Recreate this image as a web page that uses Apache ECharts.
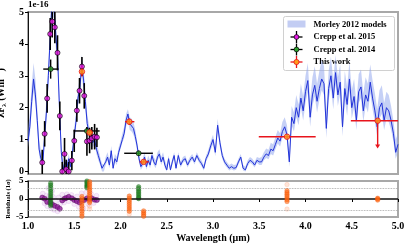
<!DOCTYPE html>
<html><head><meta charset="utf-8">
<script src="https://cdn.jsdelivr.net/npm/echarts@6/dist/echarts.min.js"></script>
<style>html,body{margin:0;padding:0;background:#fff}#c{width:407px;height:244px}</style>
</head><body><div id="c"></div>
<script>
// ---------- Model spectrum (Morley 2012) ----------
const wl = [
1.00,1.02,1.04,1.06,1.08,1.10,1.12,1.14,1.16,1.18,
1.20,1.22,1.24,1.26,1.28,1.30,1.32,1.34,1.36,1.38,
1.40,1.42,1.44,1.46,1.48,1.50,1.52,1.54,1.56,1.58,
1.60,1.62,1.64,1.66,1.68,1.70,1.72,1.74,1.76,1.78,
1.80,1.82,1.84,1.86,1.88,1.90,1.92,1.94,1.96,1.98,
2.00,2.02,2.04,2.06,2.08,2.10,2.12,2.14,2.16,2.18,
2.20,2.22,2.24,2.26,2.28,2.30,2.32,2.34,2.36,2.38,
2.40,2.42,2.44,2.46,2.48,2.50,2.52,2.54,2.56,2.58,
2.60,
2.625,2.65,2.675,2.70,2.725,2.75,2.775,2.80,2.825,2.85,2.875,2.90,2.925,2.95,2.975,3.00,
3.025,3.05,3.075,3.10,3.125,3.15,3.175,3.20,3.225,3.25,3.275,3.30,3.325,3.35,3.375,3.40,
3.425,3.45,3.475,3.50,3.525,3.55,3.575,3.60,3.625,3.65,3.675,3.70,3.725,3.75,3.775,3.80,
3.825,3.85,3.875,3.90,3.925,3.95,3.975,4.00,4.025,4.05,4.075,4.10,4.125,4.15,4.175,4.20,
4.225,4.25,4.275,4.30,4.325,4.35,4.375,4.40,4.425,4.45,4.475,4.50,4.525,4.55,4.575,4.60,
4.625,4.65,4.675,4.70,4.725,4.75,4.775,4.80,4.825,4.85,4.875,4.90,4.925,4.95,4.975,5.00];
const modelMid = [
0.95,1.4,2.2,2.9,2.4,1.6,0.7,0.4,0.25,1.1,
1.9,3.0,4.2,5.3,5.2,4.3,3.6,2.0,0.6,0.05,
0.3,0.1,0.4,0.15,0.6,1.1,1.6,2.3,2.6,3.3,
2.9,2.2,1.5,1.2,1.0,0.9,1.0,0.7,0.5,0.3,
0.1,0.05,0.3,0.45,0.2,0.65,0.1,0.4,0.3,0.6,
0.8,1.0,1.2,1.6,1.8,1.5,1.45,1.35,1.1,0.8,
0.4,0.15,0.25,0.45,0.15,0.35,0.2,0.5,0.3,0.2,
0.45,0.55,0.3,0.45,0.2,0.05,0.4,0.05,0.3,0.5,
0.1,
0.5,0.2,0.35,0.4,0.2,0.35,0.45,0.3,0.5,0.35,0.25,0.1,0.4,0.55,0.8,1.0,
0.6,1.45,0.9,0.5,0.3,0.2,0.1,0.15,0.1,0.12,0.3,0.45,0.1,0.05,0.25,0.35,
0.3,0.2,0.35,0.3,0.3,0.45,0.55,0.5,0.7,0.65,0.85,1.05,0.95,1.25,1.4,1.15,
0.3,1.7,1.5,2.0,1.7,2.3,1.9,2.5,2.85,1.7,2.4,2.7,2.2,2.6,2.9,2.75,
1.35,2.6,3.0,2.3,3.1,2.4,2.8,1.4,2.6,2.1,2.9,2.0,2.35,1.6,2.5,2.65,
1.9,2.4,2.2,2.8,2.3,1.9,1.4,2.0,2.15,1.6,2.0,1.9,1.6,1.2,0.6,0.85];
const modelHi = [
1.3,1.85,2.7,3.4,2.9,2.0,1.0,0.65,0.5,1.4,
2.3,3.4,4.7,5.8,5.7,4.7,4.0,2.4,0.9,0.2,
0.45,0.25,0.55,0.3,0.8,1.35,1.9,2.6,2.95,3.65,
3.25,2.5,1.8,1.45,1.25,1.1,1.2,0.9,0.7,0.45,
0.25,0.2,0.45,0.6,0.35,0.8,0.25,0.55,0.45,0.75,
0.95,1.2,1.4,1.8,1.95,1.7,1.65,1.55,1.3,0.95,
0.55,0.3,0.4,0.6,0.3,0.5,0.35,0.65,0.45,0.35,
0.6,0.7,0.45,0.6,0.35,0.2,0.5,0.15,0.4,0.6,
0.2,
0.6,0.3,0.45,0.5,0.3,0.45,0.55,0.4,0.6,0.45,0.35,0.2,0.5,0.68,0.95,1.15,
0.75,1.65,1.05,0.62,0.4,0.3,0.2,0.25,0.2,0.22,0.4,0.55,0.2,0.15,0.35,0.45,
0.4,0.3,0.45,0.42,0.45,0.6,0.72,0.68,0.9,0.85,1.08,1.3,1.2,1.55,1.7,1.45,
0.6,2.05,1.85,2.4,2.1,2.75,2.35,3.0,3.4,2.2,2.95,3.3,2.75,3.15,3.5,3.3,
1.9,3.15,3.6,2.85,3.65,2.95,3.35,1.95,3.15,2.65,3.45,2.55,2.9,2.15,3.05,3.2,
2.45,2.95,2.75,3.35,2.85,2.45,1.95,2.55,2.7,2.15,2.5,2.4,2.05,1.6,1.0,1.2];
const modelLo = [
0.75,1.15,1.9,2.5,2.1,1.35,0.5,0.25,0.1,0.9,
1.6,2.7,3.9,4.9,4.8,3.9,3.3,1.7,0.4,0.0,
0.15,0.0,0.25,0.05,0.45,0.9,1.4,2.05,2.35,3.0,
2.6,1.95,1.3,1.0,0.85,0.75,0.85,0.55,0.35,0.2,
0.0,0.0,0.2,0.35,0.1,0.55,0.05,0.3,0.2,0.5,
0.7,0.9,1.05,1.4,1.6,1.3,1.25,1.15,0.95,0.65,
0.3,0.05,0.15,0.35,0.05,0.25,0.1,0.4,0.2,0.1,
0.35,0.45,0.2,0.35,0.1,0.0,0.3,0.0,0.2,0.4,
0.05,
0.4,0.12,0.27,0.32,0.12,0.27,0.37,0.22,0.42,0.27,0.17,0.03,0.32,0.45,0.68,0.85,
0.48,1.25,0.75,0.4,0.22,0.12,0.03,0.07,0.03,0.05,0.22,0.37,0.03,0.0,0.17,0.27,
0.22,0.12,0.27,0.2,0.2,0.35,0.42,0.38,0.55,0.5,0.7,0.88,0.78,1.05,1.2,0.95,
0.15,1.45,1.25,1.7,1.45,2.0,1.6,2.15,2.5,1.4,2.05,2.35,1.85,2.25,2.55,2.4,
1.05,2.25,2.65,1.95,2.75,2.05,2.45,1.1,2.25,1.75,2.55,1.65,2.0,1.3,2.15,2.3,
1.55,2.05,1.85,2.45,1.95,1.55,1.1,1.65,1.8,1.3,1.65,1.55,1.3,0.95,0.4,0.6];

// ---------- Crepp et al. 2015 ----------
const c15Wl  = [1.154,1.18,1.207,1.24,1.262,1.29,1.319,1.344,1.37,1.395,1.413,1.44,1.474,1.50,1.528,1.557,1.583,1.608,1.637,1.666,1.69,1.72,1.745];
const c15F   = [0.28,1.18,2.29,4.31,4.70,4.52,3.72,1.74,0.0,0.55,0.07,0.0,0.34,0.96,1.91,2.53,3.29,2.37,0.94,0.97,1.04,1.09,1.07];
const c15Err = [0.4,0.4,0.45,0.5,0.5,0.5,0.55,0.45,0.3,0.5,0.3,0.3,0.3,0.35,0.35,0.4,0.3,0.4,0.45,0.4,0.35,0.4,0.3];
const c15Res = [0.4,0.1,-0.8,-1.0,-1.5,-1.9,-2.2,-2.7,-0.4,0.1,0.3,0.6,0.2,-0.3,-0.6,-1.0,-0.5,-0.3,0.2,0.0,0.2,-0.2,-0.3];
const c15FaintWl  = [1.16,1.18,1.20,1.21,1.23,1.25,1.27,1.28,1.30,1.32,1.33,1.35,1.37,1.39,1.42,1.44,1.47,1.50,1.53,1.55,1.58,1.60,1.63,1.65,1.68,1.71,1.74,1.22,1.26];
const c15FaintRes = [1.5,-1.2,1.0,-2.0,0.8,-2.5,0.6,-3.0,-0.5,-3.4,0.4,-1.2,1.2,-1.0,1.3,-0.6,1.1,-1.4,0.7,-2.2,1.6,-2.6,1.8,-1.4,1.5,-1.1,0.9,3.0,2.2];

// ---------- Crepp et al. 2014 ----------
const c14Wl  = [1.245,1.637,2.196];
const c14F   = [3.21,1.27,0.57];
const c14XLo = [1.165,1.494,2.04];
const c14XHi = [1.33,1.774,2.35];
const c14Err = [0.3,0.1,0.08];
const c14ResVals = [[4.4,3.8,3.2,2.6,2.0,1.4,0.8,0.3,-0.2,-0.8,-1.4,-1.9],[5.0,4.6,4.2,3.8,3.4,3.1],[3.4,2.9,2.4,1.9,1.4,0.9,0.4,0.1]];

// ---------- This work ----------
const twWl  = [1.583,1.666,2.095,2.25,3.80];
const twF   = [3.13,1.22,1.56,0.30,1.09];
const twXLo = [1.568,1.63,2.05,2.207,3.495];
const twXHi = [1.598,1.70,2.15,2.305,4.11];
const twErr = [0.15,0.1,0.1,0.05,0.03];
const limWl = 4.78, limF = 1.59, limXLo = 4.49, limXHi = 5.07, limTo = 0.75;
const twResWl = [1.583,1.666,2.095,2.25,3.80,4.78];
const twResVals = [[0.7,0.1,-0.6,-1.3,-2.0,-2.7,-3.4,-4.1,-4.8],[4.8,4.2,3.6,3.0,2.4,1.8,1.2,0.6,0.0,-0.6,-1.0],[0.8,0.2,-0.4,-1.0,-1.6,-2.2,-2.8,-3.4],[-3.3,-3.8,-4.3,-4.8],[2.3,1.8,1.3,0.8,0.3,-0.2,-0.7],[0.2,0.0,-0.3]];
const twFaintWl  = [1.666,1.666,3.80,3.80,2.095];
const twFaintRes = [-2.0,-2.8,4.0,-2.8,-4.2];

// ---------- axis ticks ----------
const xTicks = [1.0,1.5,2.0,2.5,3.0,3.5,4.0,4.5,5.0];
const fTicks = [0,1,2,3,4,5];
const resTicks = [-5,0,5];

const FONT = '"Liberation Serif","DejaVu Serif","Times New Roman",serif';
const pairs = (xs, ys) => xs.map((x,i)=>[x, ys[i]]);
const columns = (xs, vals) => { const out=[]; xs.forEach((x,i)=>vals[i].forEach(v=>out.push([x,v]))); return out; };

function errItem(color, lw){
  return function(params, api){
    const x=api.value(0), y=api.value(1);
    const c=api.coord([x,y]);
    const xl=api.coord([api.value(2),y])[0], xh=api.coord([api.value(3),y])[0];
    const yl=api.coord([x,api.value(4)])[1], yh=api.coord([x,api.value(5)])[1];
    const ch=[];
    if (xh-xl>0.5) ch.push({type:'line',shape:{x1:xl,y1:c[1],x2:xh,y2:c[1]},style:{stroke:color,lineWidth:lw}});
    if (Math.abs(yl-yh)>0.5) ch.push({type:'line',shape:{x1:c[0],y1:yl,x2:c[0],y2:yh},style:{stroke:color,lineWidth:lw}});
    return {type:'group',children:ch};
  };
}
function bandItem(params, api){
  if (params.dataIndex !== 0) return null;
  const top = wl.map((x,i)=>api.coord([x, modelHi[i]]));
  const bot = wl.map((x,i)=>api.coord([x, modelLo[i]])).reverse();
  return {type:'polygon',shape:{points:top.concat(bot)},style:{fill:'rgba(140,162,238,0.5)'}};
}

const c15ErrData = c15Wl.map((x,i)=>[x,c15F[i],x,x,c15F[i]-c15Err[i],c15F[i]+c15Err[i]]);
const c14ErrData = c14Wl.map((x,i)=>[x,c14F[i],c14XLo[i],c14XHi[i],c14F[i]-c14Err[i],c14F[i]+c14Err[i]]);
const twErrData  = twWl.map((x,i)=>[x,twF[i],twXLo[i],twXHi[i],twF[i]-twErr[i],twF[i]+twErr[i]]);

const chart = echarts.init(document.getElementById('c'), null, {renderer:'canvas'});
const lblStyle = {fontFamily:FONT,fontWeight:'bold',color:'#000'};

const baseGraphic = [
    {type:'text',id:'exp',left:28,top:0,style:{text:'1e-16',font:'bold 9px '+FONT,fill:'#000'}},
    {type:'group',id:'legend',left:283,top:16,children:[
      {type:'rect',shape:{x:0,y:0,width:111,height:54,r:2},style:{fill:'rgba(255,255,255,0.9)',stroke:'#d0d0d0',lineWidth:1}},
      {type:'rect',shape:{x:4,y:4,width:18,height:7},style:{fill:'#c3cdf3'}},
      {type:'line',shape:{x1:7,y1:20.5,x2:19,y2:20.5},style:{stroke:'#000',lineWidth:1.3}},
      {type:'line',shape:{x1:13,y1:14.5,x2:13,y2:26.5},style:{stroke:'#000',lineWidth:1.3}},
      {type:'circle',shape:{cx:13,cy:20.5,r:2.4},style:{fill:'#e619e6',stroke:'#000',lineWidth:0.7}},
      {type:'line',shape:{x1:7,y1:33,x2:19,y2:33},style:{stroke:'#000',lineWidth:1.3}},
      {type:'line',shape:{x1:13,y1:27,x2:13,y2:39},style:{stroke:'#000',lineWidth:1.3}},
      {type:'circle',shape:{cx:13,cy:33,r:2.4},style:{fill:'#2ca02c',stroke:'#000',lineWidth:0.7}},
      {type:'line',shape:{x1:7,y1:45.5,x2:19,y2:45.5},style:{stroke:'#e8141c',lineWidth:1.3}},
      {type:'line',shape:{x1:13,y1:39.5,x2:13,y2:51.5},style:{stroke:'#e8141c',lineWidth:1.3}},
      {type:'circle',shape:{cx:13,cy:45.5,r:2.6},style:{fill:'#ff9a1a',stroke:'#e8141c',lineWidth:0.8}},
      {type:'text',x:30,y:8,style:{text:'Morley 2012 models',font:'bold 8.5px '+FONT,fill:'#000',verticalAlign:'middle'}},
      {type:'text',x:30,y:20.5,style:{text:'Crepp et al. 2015',font:'bold 8.5px '+FONT,fill:'#000',verticalAlign:'middle'}},
      {type:'text',x:30,y:33,style:{text:'Crepp et al. 2014',font:'bold 8.5px '+FONT,fill:'#000',verticalAlign:'middle'}},
      {type:'text',x:30,y:45.5,style:{text:'This work',font:'bold 8.5px '+FONT,fill:'#000',verticalAlign:'middle'}}
    ]}
];

const option = {
  animation:false,
  backgroundColor:'#fff',
  grid:[
    {left:28,right:9,top:12,height:162,show:true,borderColor:'#a8a8a8',borderWidth:2,outerBoundsMode:'none'},
    {left:28,right:9,top:181,height:36,show:true,borderColor:'#a8a8a8',borderWidth:2,outerBoundsMode:'none'}
  ],
  xAxis:[
    {gridIndex:0,type:'value',min:1,max:5,interval:0.5,axisLine:{show:false},axisTick:{show:false},axisLabel:{show:false},splitLine:{show:false}},
    {gridIndex:1,type:'value',min:1,max:5,interval:0.5,axisLine:{show:false},
     axisTick:{show:true,length:3,lineStyle:{color:'#000'},customValues:xTicks},
     axisLabel:{...lblStyle,fontSize:10,margin:4,customValues:xTicks,formatter:v=>v.toFixed(1)},
     splitLine:{show:false},
     name:'Wavelength (μm)',nameLocation:'middle',nameGap:16,
     nameTextStyle:{fontFamily:FONT,fontWeight:'bold',fontSize:10,color:'#000'}}
  ],
  yAxis:[
    {gridIndex:0,type:'value',min:-0.08,max:5,
     axisLine:{show:true,lineStyle:{color:'#111',width:1}},
     axisTick:{show:true,length:3,lineStyle:{color:'#000'},customValues:fTicks},
     axisLabel:{...lblStyle,fontSize:10,margin:4,customValues:fTicks,formatter:v=>String(Math.round(v))},
     splitLine:{show:false},
     name:'{a|λF}{s|λ}{a| (Wm}{p|−2}{a|)}',nameLocation:'middle',nameRotate:90,nameGap:11,
     nameTextStyle:{rich:{
       a:{fontFamily:FONT,fontWeight:'bold',fontSize:10,color:'#000',lineHeight:14,verticalAlign:'middle'},
       s:{fontFamily:FONT,fontWeight:'bold',fontSize:7,color:'#000',verticalAlign:'bottom'},
       p:{fontFamily:FONT,fontWeight:'bold',fontSize:7,color:'#000',verticalAlign:'top'}}}},
    {gridIndex:1,type:'value',min:-5,max:5,interval:5,
     axisLine:{show:true,lineStyle:{color:'#111',width:1}},
     axisTick:{show:true,length:3,lineStyle:{color:'#000'}},
     axisLabel:{show:false},
     splitLine:{show:false}}
  ],
  series:[
    {type:'custom',xAxisIndex:0,yAxisIndex:0,renderItem:bandItem,data:pairs(wl,modelMid),clip:true,z:1,silent:true},
    {type:'line',xAxisIndex:0,yAxisIndex:0,data:pairs(wl,modelMid),showSymbol:false,symbol:'none',
     lineStyle:{color:'#2233d8',width:1},z:2,silent:true},
    {type:'custom',xAxisIndex:0,yAxisIndex:0,renderItem:errItem('#000',1.6),data:c15ErrData,encode:{x:[0,2,3],y:[1,4,5]},clip:true,z:3},
    {type:'custom',xAxisIndex:0,yAxisIndex:0,renderItem:errItem('#000',1.4),data:c14ErrData,encode:{x:[0,2,3],y:[1,4,5]},clip:true,z:3},
    {type:'custom',xAxisIndex:0,yAxisIndex:0,renderItem:errItem('#e8141c',1.4),data:twErrData,encode:{x:[0,2,3],y:[1,4,5]},clip:true,z:3},
    {type:'custom',xAxisIndex:0,yAxisIndex:0,clip:true,z:3,data:[[limWl,limF,limXLo,limXHi,limTo]],encode:{x:[0,2],y:[1,4]},
     renderItem:function(params,api){
       const c=api.coord([api.value(0),api.value(1)]);
       const xl=api.coord([api.value(2),api.value(1)])[0], xh=api.coord([api.value(3),api.value(1)])[0];
       const yEnd=api.coord([api.value(0),api.value(4)])[1];
       return {type:'group',children:[
         {type:'line',shape:{x1:xl,y1:c[1],x2:xh,y2:c[1]},style:{stroke:'#e8141c',lineWidth:1.4}},
         {type:'line',shape:{x1:c[0],y1:c[1],x2:c[0],y2:yEnd-2},style:{stroke:'#e8141c',lineWidth:1.4}},
         {type:'polygon',shape:{points:[[c[0]-2.5,yEnd-3],[c[0]+2.5,yEnd-3],[c[0],yEnd+1]]},style:{fill:'#e8141c'}}
       ]};
     }},
    {type:'scatter',xAxisIndex:0,yAxisIndex:0,data:pairs(c15Wl,c15F),symbol:'circle',symbolSize:5,
     itemStyle:{color:'#e619e6',borderColor:'#000',borderWidth:0.8},z:4},
    {type:'scatter',xAxisIndex:0,yAxisIndex:0,data:pairs(c14Wl,c14F),symbol:'circle',symbolSize:5,
     itemStyle:{color:'#2ca02c',borderColor:'#000',borderWidth:0.8},z:4},
    {type:'scatter',xAxisIndex:0,yAxisIndex:0,data:pairs(twWl,twF).concat([[limWl,limF]]),symbol:'circle',symbolSize:5.5,
     itemStyle:{color:'#ff9a1a',borderColor:'#e8141c',borderWidth:1},z:5},
    // residuals
    {type:'scatter',xAxisIndex:1,yAxisIndex:1,data:pairs(c15FaintWl,c15FaintRes),symbol:'circle',symbolSize:5,
     itemStyle:{color:'rgba(215,160,230,0.3)',borderColor:'rgba(190,120,210,0.35)',borderWidth:0.6},z:2,
     markLine:{silent:true,symbol:'none',label:{show:false},animation:false,
       data:[{yAxis:0,lineStyle:{color:'#111',width:1.5,type:'solid'}},
             {yAxis:3,lineStyle:{color:'#999',width:0.8,type:'dotted'}},
             {yAxis:-3,lineStyle:{color:'#999',width:0.8,type:'dotted'}}]}},
    {type:'scatter',xAxisIndex:1,yAxisIndex:1,data:pairs(c15Wl,c15Res),symbol:'circle',symbolSize:5,
     itemStyle:{color:'#8e1b98',borderColor:'#5a0d62',borderWidth:0.6},z:3},
    {type:'scatter',xAxisIndex:1,yAxisIndex:1,data:columns(c14Wl,c14ResVals),symbol:'circle',symbolSize:4.5,
     itemStyle:{color:'rgba(30,130,30,0.75)',borderColor:'rgba(20,100,20,0.8)',borderWidth:0.5},z:4},
    {type:'scatter',xAxisIndex:1,yAxisIndex:1,data:pairs(twFaintWl,twFaintRes),symbol:'circle',symbolSize:4.5,
     itemStyle:{color:'rgba(255,150,100,0.3)',borderColor:'rgba(255,120,60,0.4)',borderWidth:0.5},z:4},
    {type:'scatter',xAxisIndex:1,yAxisIndex:1,data:columns(twResWl,twResVals),symbol:'circle',symbolSize:4.5,
     itemStyle:{color:'rgba(255,105,20,0.75)',borderColor:'rgba(240,80,0,0.85)',borderWidth:0.5},z:5}
  ],
  graphic: baseGraphic
};
try { chart.setOption(option); } catch (e) {}

// Residual axis tick labels and title, positioned from the residual axis' own scale.
let resPix = [];
try { resPix = resTicks.map(v => chart.convertToPixel({xAxisIndex:1, yAxisIndex:1}, [1, v])); } catch (e) {}
const fallback = [[28,217],[28,199],[28,181]];
const resLabels = resTicks.map((v,i) => {
  const p = (resPix[i] && isFinite(resPix[i][0]) && isFinite(resPix[i][1])) ? resPix[i] : fallback[i];
  return {type:'text', id:'resLbl'+i, x:p[0]-4.5, y:p[1], silent:true, z:100,
    style:{text:String(v), font:'bold 9px "Liberation Serif", serif', fill:'#000', align:'right', verticalAlign:'middle'}};
});
const pMid = (resPix[1] && isFinite(resPix[1][1])) ? resPix[1] : fallback[1];
resLabels.push({type:'text', id:'resName', x:8, y:pMid[1], rotation:Math.PI/2, silent:true, z:100,
  style:{text:'Residuals (1σ)', font:'bold 6.5px "Liberation Serif", serif', fill:'#000', align:'center', verticalAlign:'middle'}});
try { chart.setOption({graphic: baseGraphic.concat(resLabels)}); } catch (e) {}
</script>
</body></html>
